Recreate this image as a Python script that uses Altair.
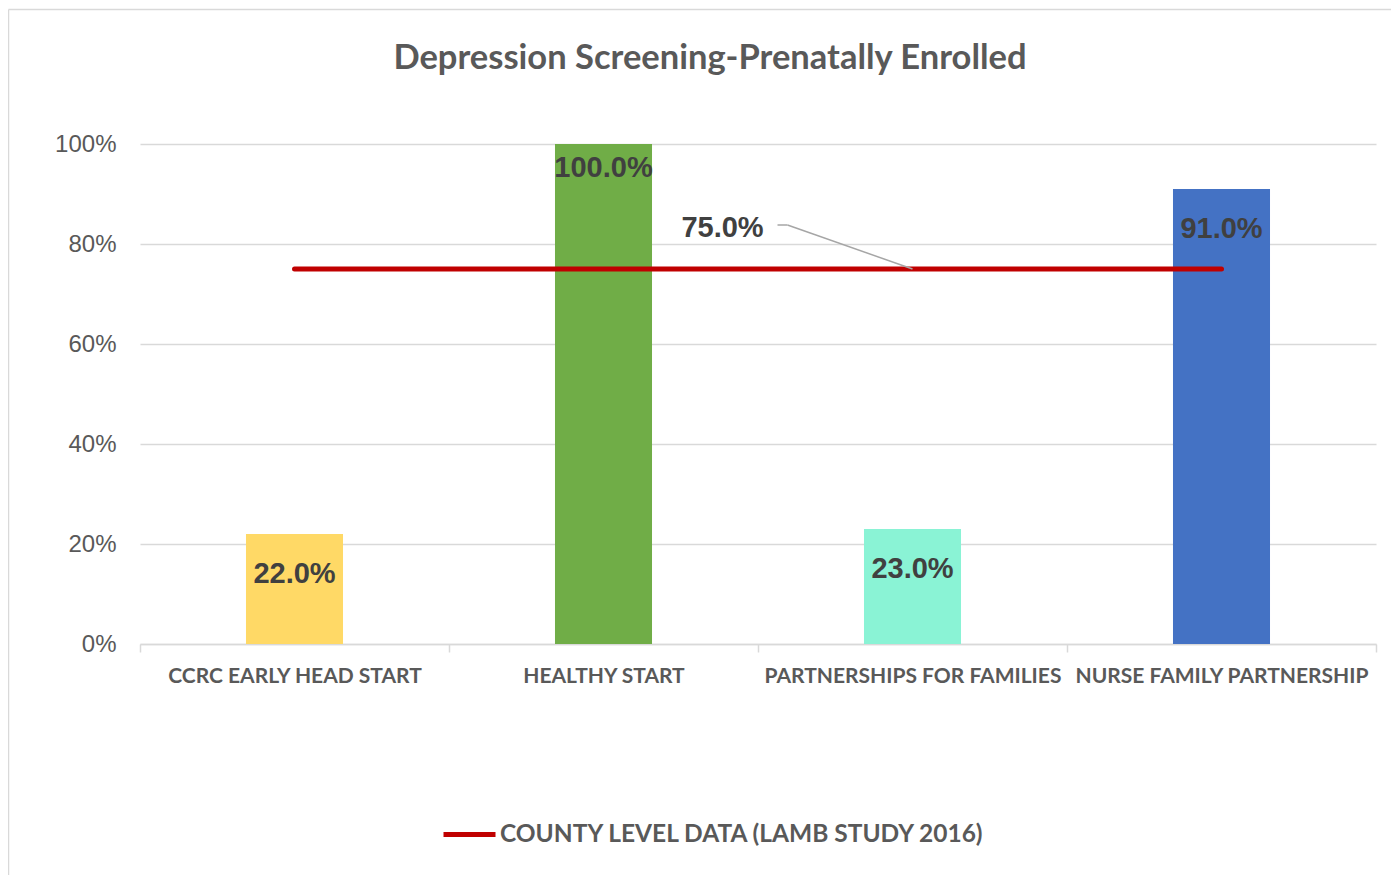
import altair as alt
import pandas as pd

# ---- data ----
categories = ["CCRC EARLY HEAD START", "HEALTHY START", "PARTNERSHIPS FOR FAMILIES", "NURSE FAMILY PARTNERSHIP"]
values = [22.0, 100.0, 23.0, 91.0]
bar_colors = ["#FFD966", "#70AD47", "#8AF3D5", "#4472C4"]
county_values = [75.0, 75.0, 75.0, 75.0]
series_name = "COUNTY LEVEL DATA (LAMB STUDY 2016)"
y_ticks = [0, 20, 40, 60, 80, 100]
title_text = "Depression Screening-Prenatally Enrolled"

TEXT_GRAY = "#595959"
LABEL_DARK = "#404040"
GRID = "#D9D9D9"
RED = "#C00000"

bars_df = pd.DataFrame({"cat": categories, "value": values})
line_df = pd.DataFrame({"cat": categories, "value": county_values, "series": [series_name] * len(categories)})
annot_df = pd.DataFrame({"cat": [categories[2]], "value": [county_values[2]]})
one = pd.DataFrame({"a": [0]})

x_scale = alt.Scale(domain=categories, paddingInner=0, paddingOuter=0)
y_scale = alt.Scale(domain=[0, 100], nice=False)

x_axis = alt.Axis(
    title=None, labelAngle=0, labelFont="Lato", labelFontWeight="bold", labelFontSize=21,
    labelColor=TEXT_GRAY, tickBand="extent", tickColor=GRID, tickSize=8, tickWidth=1.5,
    domainColor=GRID, domainWidth=1.5, labelPadding=13, grid=False, labelLimit=400,
)
y_axis = alt.Axis(
    title=None, values=y_ticks, labelExpr="datum.value + '%'", labelFont="Liberation Sans",
    labelFontSize=24, labelColor=TEXT_GRAY, labelPadding=24, domain=False, ticks=False,
    gridColor=GRID, gridWidth=1.5,
)

X = alt.X("cat:N", scale=x_scale, axis=x_axis, sort=categories)
Y = alt.Y("value:Q", scale=y_scale, axis=y_axis)

bars = alt.Chart(bars_df).mark_bar(width={"band": 0.314}).encode(
    x=X, y=Y,
    fill=alt.Fill("cat:N", scale=alt.Scale(domain=categories, range=bar_colors), legend=None),
)

bar_labels = alt.Chart(bars_df).transform_calculate(
    pos="datum.value >= 100 ? 95.2 : datum.value - 8",
    label="format(datum.value, '.1f') + '%'",
).mark_text(
    font="Liberation Sans", fontWeight="bold", fontSize=29, color=LABEL_DARK, baseline="middle"
).encode(
    x=alt.X("cat:N", scale=x_scale, sort=categories),
    y=alt.Y("pos:Q", scale=y_scale),
    text="label:N",
)

line = alt.Chart(line_df).mark_line(strokeWidth=5, strokeCap="round").encode(
    x=alt.X("cat:N", scale=x_scale, sort=categories),
    y=alt.Y("value:Q", scale=y_scale),
    stroke=alt.Stroke(
        "series:N",
        scale=alt.Scale(domain=[series_name], range=[RED]),
        legend=alt.Legend(
            title=None, orient="none", legendX=301, legendY=662, padding=0,
            symbolType="stroke", symbolSize=2704, symbolStrokeWidth=5,
            labelFont="Lato", labelFontWeight="bold", labelFontSize=24.5,
            labelColor=TEXT_GRAY, labelOffset=2, labelLimit=800,
        ),
    ),
)

leader1 = alt.Chart(annot_df).mark_rule(
    color="#A6A6A6", strokeWidth=1.5, x2Offset=-125, y2Offset=-44
).encode(
    x=alt.X("cat:N", scale=x_scale, sort=categories),
    x2=alt.X2("cat:N"),
    y=alt.Y("value:Q", scale=y_scale),
    y2=alt.Y2("value:Q"),
)
leader2 = alt.Chart(annot_df).mark_rule(
    color="#A6A6A6", strokeWidth=1.5, xOffset=-135, x2Offset=-125, yOffset=-44, y2Offset=-44
).encode(
    x=alt.X("cat:N", scale=x_scale, sort=categories),
    x2=alt.X2("cat:N"),
    y=alt.Y("value:Q", scale=y_scale),
    y2=alt.Y2("value:Q"),
)
annot_text = alt.Chart(annot_df).transform_calculate(
    label="format(datum.value, '.1f') + '%'"
).mark_text(
    font="Liberation Sans", fontWeight="bold", fontSize=29, color=LABEL_DARK,
    baseline="middle", dx=-190, dy=-41,
).encode(
    x=alt.X("cat:N", scale=x_scale, sort=categories),
    y=alt.Y("value:Q", scale=y_scale),
    text="label:N",
)

title = alt.Chart(one).mark_text(
    text=title_text, font="Lato", fontWeight="bold", fontSize=34.5, color=TEXT_GRAY, baseline="middle"
).encode(x=alt.value(570), y=alt.value(-85))

border_left = alt.Chart(one).mark_rule(color=GRID, strokeWidth=1.5).encode(
    x=alt.value(-131.5), y=alt.value(-134.5), y2=alt.value(800)
)
border_top = alt.Chart(one).mark_rule(color=GRID, strokeWidth=1.5).encode(
    x=alt.value(-131.5), x2=alt.value(1400), y=alt.value(-134.5)
)

chart = alt.layer(
    border_left, border_top, bars, line, bar_labels, leader1, leader2, annot_text, title
).resolve_scale(fill="independent", stroke="independent").properties(
    width=1236, height=500,
    padding={"left": 132, "top": 136, "right": 15, "bottom": 231},
    autosize="none",
    background="white",
).configure_view(stroke=None)

chart.save("out.html", embed_options={"renderer": "svg", "actions": False})
